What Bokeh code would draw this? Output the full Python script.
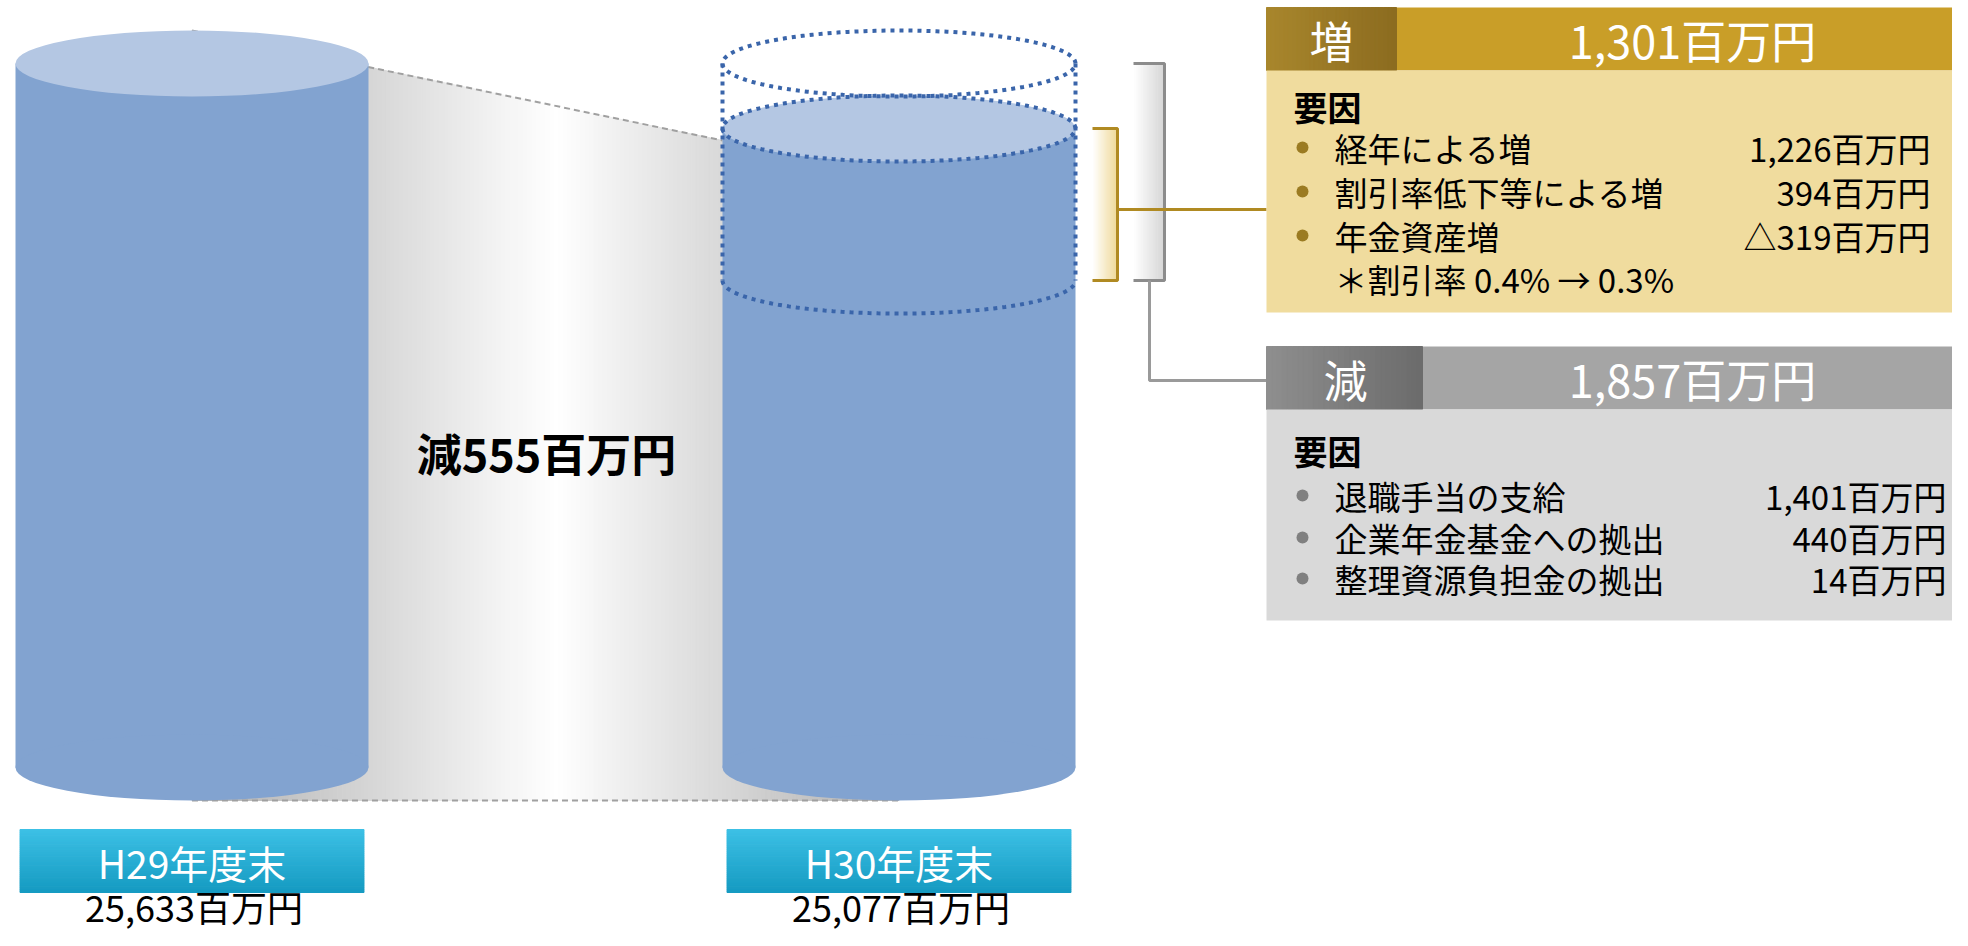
import numpy as np
from bokeh.plotting import figure
from bokeh.models import Range1d
from bokeh.core.properties import value
from bokeh.embed import file_html
from bokeh.resources import INLINE

# ---------------- data ----------------
periods = ["H29年度末", "H30年度末"]
totals = [25633, 25077]                      # 百万円
total_labels = ["25,633百万円", "25,077百万円"]
change_label = "減555百万円"
inc_total = 1301
dec_total = 1857
inc_label = "1,301百万円"
dec_label = "1,857百万円"
inc_items = ["経年による増", "割引率低下等による増", "年金資産増"]
inc_values = ["1,226百万円", "394百万円", "△319百万円"]
inc_note = "＊割引率 0.4% → 0.3%"
dec_items = ["退職手当の支給", "企業年金基金への拠出", "整理資源負担金の拠出"]
dec_values = ["1,401百万円", "440百万円", "14百万円"]

# ---------------- layout / style ----------------
W, H = 1952, 930
SX0, SY0 = 0, 0
K = 0.1169                          # px per 百万円
TOP_PX = 63                         # screen y of first total


def px_to_val(y):
    return totals[0] - (y - TOP_PX) / K


FONT = value("Noto Sans CJK JP")
BODY = "#82a3d0"
TOPC = "#b4c7e3"
DOT = "#3a65aa"
CYL_CX = [191.5, 898.5]
CYL_W = 353
SEMI_PX = 33
SEMI = SEMI_PX / K
BASE = px_to_val(767)

p = figure(width=W, height=H, output_backend="svg", toolbar_location=None,
           x_range=Range1d(SX0, SX0 + W),
           y_range=Range1d(px_to_val(SY0 + H), px_to_val(SY0)),
           x_axis_type=None, y_axis_type=None, min_border=0)
p.extra_y_ranges = {"px": Range1d(SY0 + H, SY0)}
p.grid.visible = False
p.outline_line_color = None
p.background_fill_color = "white"
p.border_fill_color = "white"


def hexc(r, g, b):
    return "#%02x%02x%02x" % (int(round(r)), int(round(g)), int(round(b)))


def lerp(c0, c1, t):
    a = [int(c0[i:i + 2], 16) for i in (1, 3, 5)]
    b = [int(c1[i:i + 2], 16) for i in (1, 3, 5)]
    return hexc(*[a[k] + (b[k] - a[k]) * t for k in range(3)])


def hgrad(x0, x1, y0, y1, c0, c1, n=40, rng="px"):
    xs = np.linspace(x0, x1, n + 1)
    cols = [lerp(c0, c1, i / (n - 1)) for i in range(n)]
    kw = {} if rng is None else {"y_range_name": rng}
    p.quad(left=xs[:-1], right=xs[1:], top=[y0] * n, bottom=[y1] * n,
           fill_color=cols, line_color=cols, line_width=1, **kw)


def vgrad(x0, x1, y0, y1, c0, c1, n=30):
    ys = np.linspace(y0, y1, n + 1)
    cols = [lerp(c0, c1, i / (n - 1)) for i in range(n)]
    p.quad(left=[x0] * n, right=[x1] * n, top=ys[:-1], bottom=ys[1:],
           fill_color=cols, line_color=cols, line_width=1, y_range_name="px")


# ---------------- gradient band between cylinders ----------------
x_start, x_end = CYL_CX[0], CYL_CX[1]
right_left_edge = CYL_CX[1] - CYL_W / 2
y_a = totals[0] + SEMI                       # top of first ellipse
y_b = totals[1] - 12 / K                     # meets second cylinder edge
band_bot = BASE - SEMI


def band_top(x):
    x = min(x, right_left_edge)
    return y_a + (y_b - y_a) * (x - x_start) / (right_left_edge - x_start)


mid_x = 555
n = 160
bx = np.linspace(x_start, x_end, n + 1)
xs, ys, cols = [], [], []
for i in range(n):
    xa, xb = bx[i], bx[i + 1]
    xm = (xa + xb) / 2
    if xm < mid_x:
        g = 175 + 80 * (xm - x_start) / (mid_x - x_start)
    else:
        g = 255 - 80 * (xm - mid_x) / (x_end - mid_x)
    xs.append([xa, xb, xb, xa])
    ys.append([band_bot, band_bot, band_top(xb), band_top(xa)])
    cols.append(hexc(g, g, g))
p.patches(xs, ys, fill_color=cols, line_color=cols, line_width=1)

p.line([x_start, right_left_edge], [y_a, y_b], line_color="#a0a0a0",
       line_width=2, line_dash="6 4")
p.line([x_start, x_end], [band_bot, band_bot], line_color="#a0a0a0",
       line_width=2, line_dash="6 4")

# ---------------- cylinders ----------------
for cx, v in zip(CYL_CX, totals):
    p.quad(left=[cx - CYL_W / 2], right=[cx + CYL_W / 2], top=[v], bottom=[BASE],
           fill_color=BODY, line_color=None)
    p.ellipse(x=[cx], y=[BASE], width=CYL_W, height=2 * SEMI,
              fill_color=BODY, line_color=None)
    p.ellipse(x=[cx], y=[v], width=CYL_W, height=2 * SEMI,
              fill_color=TOPC, line_color=None)

# dotted outline on second cylinder (previous level and change range)
cx = CYL_CX[1]
t = np.linspace(0, 2 * np.pi, 200)
lvl_top = totals[0]
lvl_bot = totals[0] - dec_total
dot_kw = dict(line_color=DOT, line_width=4, line_dash="4 5")
p.line(cx + CYL_W / 2 * np.cos(t), lvl_top + SEMI * np.sin(t), **dot_kw)
p.line(cx + CYL_W / 2 * np.cos(t), totals[1] + SEMI * np.sin(t), **dot_kw)
th = np.linspace(np.pi, 2 * np.pi, 120)
p.line(cx + CYL_W / 2 * np.cos(th), lvl_bot + SEMI * np.sin(th), **dot_kw)
for ex in (cx - CYL_W / 2, cx + CYL_W / 2):
    p.line([ex, ex], [lvl_top, lvl_bot], **dot_kw)

# ---------------- brackets ----------------
g_top, g_bot = totals[1], lvl_bot
hgrad(1092, 1116, g_top, g_bot, "#ffffff", "#f0dca0", n=20, rng=None)
p.line([1092, 1117, 1117, 1092], [g_top, g_top, g_bot, g_bot],
       line_color="#b08a22", line_width=3)
r_top, r_bot = lvl_top, lvl_bot
hgrad(1133, 1163, r_top, r_bot, "#ffffff", "#d8d8d8", n=24, rng=None)
p.line([1133, 1164, 1164, 1133], [r_top, r_top, r_bot, r_bot],
       line_color="#8c8c8c", line_width=3)
p.line([1149, 1149, 1266], [r_bot, px_to_val(380), px_to_val(380)],
       line_color="#9a9a9a", line_width=3)
g_mid = px_to_val(209)
p.line([1117, 1266], [g_mid, g_mid], line_color="#b08a22", line_width=3)

# ---------------- increase box ----------------
p.quad(left=[1266], right=[1970], top=[7], bottom=[70], fill_color="#c99e28",
       line_color=None, y_range_name="px")
hgrad(1266, 1396, 7, 70, "#a8862c", "#8c6c20", n=30)
p.quad(left=[1266], right=[1970], top=[70], bottom=[312], fill_color="#f0dc9e",
       line_color=None, y_range_name="px")

# ---------------- decrease box ----------------
p.quad(left=[1266], right=[1970], top=[346], bottom=[409], fill_color="#a5a5a5",
       line_color=None, y_range_name="px")
hgrad(1266, 1422, 346, 409, "#8e8e8e", "#6c6c6c", n=30)
p.quad(left=[1266], right=[1970], top=[409], bottom=[620], fill_color="#d9d9d9",
       line_color=None, y_range_name="px")

# ---------------- period label boxes ----------------
for cxx in CYL_CX:
    vgrad(cxx - 172, cxx + 172, 829, 892, "#3cc0e5", "#169bc2")


def txt(x, y, s, size, color="black", align="left", bold=False):
    p.text(x=[x], y=[y], text=[s], text_font=FONT, text_font_size=value(size),
           text_color=color, text_align=align, text_baseline="middle",
           text_font_style="bold" if bold else "normal", y_range_name="px")


txt(546, 452, change_label, "45px", align="center", bold=True)
for cxx, lab, tot in zip(CYL_CX, periods, total_labels):
    txt(cxx, 861, lab, "39px", color="white", align="center")
    txt(cxx + 2, 905, tot, "36px", align="center")

txt(1331, 39, "増", "44px", color="white", align="center")
txt(1692, 39, inc_label, "45px", color="white", align="center")
txt(1293, 106, "要因", "34px", bold=True)
inc_rows = [147, 191, 235]
p.scatter(x=[1302] * 3, y=inc_rows, size=12, fill_color="#9b7b22",
          line_color=None, y_range_name="px")
for yy, it, vv in zip(inc_rows, inc_items, inc_values):
    txt(1334, yy, it, "33px")
    txt(1930, yy, vv, "33px", align="right")
txt(1334, 278, inc_note, "33px")

txt(1345, 378, "減", "44px", color="white", align="center")
txt(1692, 378, dec_label, "45px", color="white", align="center")
txt(1293, 450, "要因", "34px", bold=True)
dec_rows = [495, 537, 578]
p.scatter(x=[1302] * 3, y=dec_rows, size=12, fill_color="#808080",
          line_color=None, y_range_name="px")
for yy, it, vv in zip(dec_rows, dec_items, dec_values):
    txt(1334, yy, it, "33px")
    txt(1946, yy, vv, "33px", align="right")

open("out.html", "w").write(file_html(p, INLINE))
